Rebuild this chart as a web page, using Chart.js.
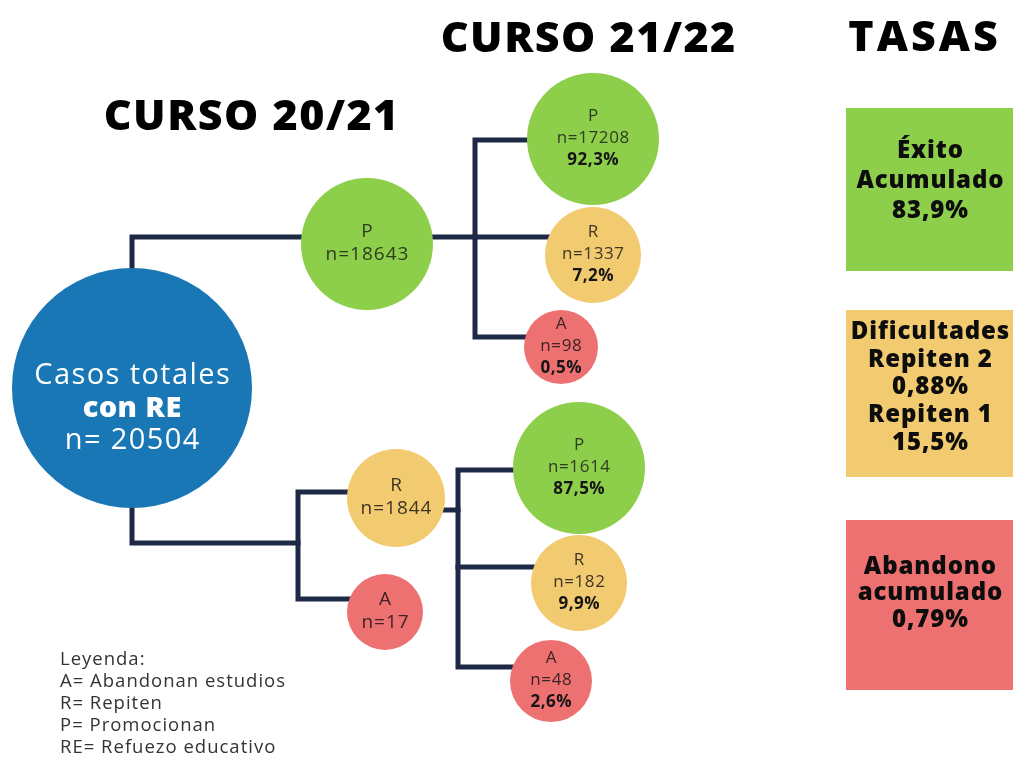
<!DOCTYPE html>
<html>
<head>
<meta charset="utf-8">
<script src="https://cdn.jsdelivr.net/npm/chart.js@4"></script>
<style>
  html, body { margin: 0; padding: 0; background: #ffffff; }
  #wrap { width: 1013px; height: 758px; }
</style>
</head>
<body>
<div id="wrap"><canvas id="c" width="1013" height="758"></canvas></div>
<script>
// ---------------- DATA ----------------
const nodeLetters = ['Casos totales', 'P', 'R', 'A', 'P', 'R', 'A', 'P', 'R', 'A'];
const nodeN       = [20504, 18643, 1844, 17, 17208, 1337, 98, 1614, 182, 48];
const nodePct     = [null, null, null, null, '92,3%', '7,2%', '0,5%', '87,5%', '9,9%', '2,6%'];
const nodeKind    = ['root', 'P', 'R', 'A', 'P', 'R', 'A', 'P', 'R', 'A'];
const nodeParent  = [null, 0, 0, 0, 1, 1, 1, 2, 2, 2];

const courseTitles = ['CURSO 20/21', 'CURSO 21/22', 'TASAS'];

const rateLines = [
  ['Éxito', 'Acumulado', '83,9%'],
  ['Dificultades', 'Repiten 2', '0,88%', 'Repiten 1', '15,5%'],
  ['Abandono', 'acumulado', '0,79%']
];
const rateKind = ['P', 'R', 'A'];

const legendLines = ['Leyenda:', 'A= Abandonan estudios', 'R= Repiten', 'P= Promocionan', 'RE= Refuezo educativo'];

// ---------------- LAYOUT (diagram positions in scale units) ----------------
const nodeX = [132, 367, 396, 385, 593, 593, 561, 579, 579, 551];
const nodeY = [388, 244, 498, 612, 139, 255, 347, 468, 583, 681];
const nodeR = [120, 66, 49, 38, 66, 48, 37, 66, 48, 41];
const branchOutY = [null, 237, 510];
const branchInY  = [null, 237, 492, 599, 140, 237, 337, 470, 567, 667];
const busX = [null, 475, 458];
const rootBusY = [237, 543];
const rootBusX = 298;

const boxX0 = 846, boxX1 = 1013;
const boxY = [[108, 271], [310, 477], [520, 690]];

const colors = {
  root: '#1877b4', P: '#8dcf4b', R: '#f2cb70', A: '#ee7171', line: '#1e2847'
};
const textColors = { P: '#2e3d22', R: '#3e3524', A: '#3d2323' };

// ---------------- BUILD DATASETS ----------------
const bubbleData = nodeX.map((x, i) => ({ x: x, y: nodeY[i], r: nodeR[i] }));
const bubbleColors = nodeKind.map(k => colors[k]);

const lineSets = [];
function addLine(pts) {
  lineSets.push({
    type: 'line',
    data: pts.map(p => ({ x: p[0], y: p[1] })),
    borderColor: colors.line,
    borderWidth: 5,
    pointRadius: 0,
    pointHoverRadius: 0,
    tension: 0,
    fill: false,
    clip: false,
    borderCapStyle: 'square',
    borderJoinStyle: 'miter',
    order: 2
  });
}
addLine([[nodeX[0], nodeY[0]], [nodeX[0], rootBusY[0]], [nodeX[1], rootBusY[0]]]);
addLine([[nodeX[0], nodeY[0]], [nodeX[0], rootBusY[1]], [rootBusX, rootBusY[1]]]);
addLine([[nodeX[2], branchInY[2]], [rootBusX, branchInY[2]], [rootBusX, branchInY[3]], [nodeX[3], branchInY[3]]]);
[1, 2].forEach(p => {
  const kids = nodeParent.map((q, i) => q === p ? i : -1).filter(i => i >= 0);
  const bx = busX[p];
  addLine([[nodeX[p], branchOutY[p]], [bx, branchOutY[p]]]);
  const first = kids[0], last = kids[kids.length - 1];
  addLine([[nodeX[first], branchInY[first]], [bx, branchInY[first]], [bx, branchInY[last]], [nodeX[last], branchInY[last]]]);
  kids.slice(1, -1).forEach(k => addLine([[bx, branchInY[k]], [nodeX[k], branchInY[k]]]));
});

// ---------------- PLUGIN FOR TEXT & BOXES ----------------
const FONT = '"Open Sans", "DejaVu Sans", sans-serif';
function txt(ctx, t, px, py, font, ls) {
  ctx.font = font;
  ctx.letterSpacing = (ls || 0) + 'px';
  ctx.fillText(t, px + (ctx.textAlign === 'center' ? (ls || 0) / 2 : 0), py);
}
const annot = {
  id: 'annot',
  beforeDatasetsDraw(chart) {
    const { ctx, scales: { x, y } } = chart;
    ctx.save();
    boxY.forEach((b, i) => {
      const px0 = x.getPixelForValue(boxX0), px1 = x.getPixelForValue(boxX1);
      const py0 = y.getPixelForValue(b[0]), py1 = y.getPixelForValue(b[1]);
      ctx.fillStyle = colors[rateKind[i]];
      ctx.fillRect(px0, py0, px1 - px0, py1 - py0);
    });
    ctx.restore();
  },
  afterDatasetsDraw(chart) {
    const { ctx, scales: { x, y } } = chart;
    const X = v => x.getPixelForValue(v), Y = v => y.getPixelForValue(v);
    ctx.save();
    ctx.textAlign = 'center';
    ctx.textBaseline = 'middle';
    ctx.fillStyle = '#000';
    const titlePos = [[251, 118], [588, 40], [923, 39]];
    const titleLs = [1.5, 1.5, 3];
    courseTitles.forEach((t, i) => txt(ctx, t, X(titlePos[i][0]), Y(titlePos[i][1]), '800 43px ' + FONT, titleLs[i]));

    nodeX.forEach((nx, i) => {
      const cx = X(nx), cy = Y(nodeY[i]);
      if (nodeKind[i] === 'root') {
        ctx.fillStyle = '#ffffff';
        txt(ctx, nodeLetters[i], cx, cy - 12, '400 29px ' + FONT, 1.4);
        txt(ctx, 'con RE', cx, cy + 21, '800 29px ' + FONT, 0.4);
        txt(ctx, 'n= ' + nodeN[i], cx, cy + 53, '400 29px ' + FONT, 1.4);
        return;
      }
      ctx.fillStyle = textColors[nodeKind[i]];
      if (nodePct[i]) {
        txt(ctx, nodeLetters[i], cx, cy - 23, '400 17px ' + FONT, 0.6);
        txt(ctx, 'n=' + nodeN[i], cx, cy - 1, '400 17px ' + FONT, 0.6);
        ctx.fillStyle = '#151515';
        txt(ctx, nodePct[i], cx, cy + 21, '700 17px ' + FONT, 0.5);
      } else {
        txt(ctx, nodeLetters[i], cx, cy - 12, '400 19px ' + FONT, 1);
        txt(ctx, 'n=' + nodeN[i], cx, cy + 11, '400 19px ' + FONT, 1);
      }
    });

    ctx.fillStyle = '#0d0d0d';
    const rateStartY = [151, 332, 567];
    const rateStep = [30, 27.7, 26.5];
    rateLines.forEach((lines, i) => {
      lines.forEach((t, j) => txt(ctx, t, X(930), Y(rateStartY[i] + j * rateStep[i]), '800 24px ' + FONT, 0.9));
    });

    ctx.textAlign = 'left';
    ctx.fillStyle = '#333333';
    legendLines.forEach((t, j) => txt(ctx, t, X(60), Y(660 + j * 22), '400 18.5px ' + FONT, 1.0));
    ctx.restore();
  }
};

new Chart(document.getElementById('c'), {
  type: 'bubble',
  data: {
    datasets: [
      {
        type: 'bubble',
        data: bubbleData,
        backgroundColor: bubbleColors,
        borderWidth: 0,
        hoverRadius: 0,
        clip: false,
        order: 1
      },
      ...lineSets
    ]
  },
  options: {
    responsive: false,
    animation: false,
    events: [],
    layout: { padding: 0, autoPadding: false },
    plugins: { legend: { display: false }, tooltip: { enabled: false }, title: { display: false } },
    scales: {
      x: { type: 'linear', min: 0, max: 1013, display: false },
      y: { type: 'linear', min: 0, max: 758, reverse: true, display: false }
    }
  },
  plugins: [annot]
});
</script>
</body>
</html>
